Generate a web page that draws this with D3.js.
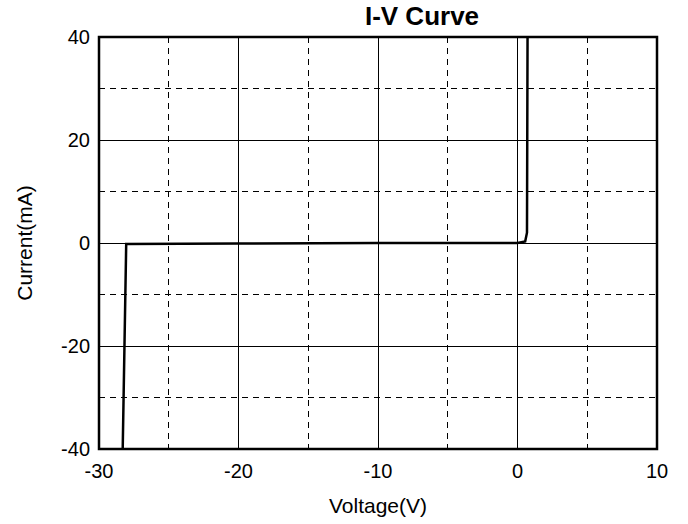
<!DOCTYPE html>
<html>
<head>
<meta charset="utf-8">
<script src="https://cdn.jsdelivr.net/npm/d3@7"></script>
<style>
body { margin: 0; background: #fff; }
text { font-family: "Liberation Sans", Arial, sans-serif; fill: #000; }
</style>
</head>
<body>
<div id="chart"></div>
<script>
// I-V data
var voltage = [-28.3, -28.05, -20, -10, 0, 0.55, 0.68, 0.72]
var current = [-40, -0.2, -0.1, 0, 0, 0.3, 2, 40]
var majorX = [-20, -10, 0]
var minorX = [-25, -15, -5, 5]
var majorY = [20, 0, -20]
var minorY = [30, 10, -10, -30]
var xTicks = [-30, -20, -10, 0, 10]
var yTicks = [-40, -20, 0, 20, 40]

var width = 688, height = 524
var m = {left: 99, top: 37, right: 31, bottom: 75}

var svg = d3.select('#chart').append('svg')
	.attr('width', width)
	.attr('height', height)

var x = d3.scaleLinear().domain([-30, 10]).range([m.left, width - m.right])
var y = d3.scaleLinear().domain([-40, 40]).range([height - m.bottom, m.top])

var g = svg.append('g')
var grid = g.append('g').attr('shape-rendering', 'crispEdges')

// grid
grid.selectAll('.vmaj').data(majorX).enter().append('line')
	.attr('x1', d => x(d)).attr('x2', d => x(d))
	.attr('y1', y(40)).attr('y2', y(-40))
	.attr('stroke', '#000').attr('stroke-width', 1)
grid.selectAll('.vmin').data(minorX).enter().append('line')
	.attr('x1', d => x(d)).attr('x2', d => x(d))
	.attr('y1', y(40)).attr('y2', y(-40))
	.attr('stroke', '#000').attr('stroke-width', 1)
	.attr('stroke-dasharray', '6,5')
grid.selectAll('.hmaj').data(majorY).enter().append('line')
	.attr('x1', x(-30)).attr('x2', x(10))
	.attr('y1', d => y(d)).attr('y2', d => y(d))
	.attr('stroke', '#000').attr('stroke-width', 1)
grid.selectAll('.hmin').data(minorY).enter().append('line')
	.attr('x1', x(-30)).attr('x2', x(10))
	.attr('y1', d => y(d)).attr('y2', d => y(d))
	.attr('stroke', '#000').attr('stroke-width', 1)
	.attr('stroke-dasharray', '6,5')

// curve
var pts = voltage.map((v, i) => [v, current[i]])
g.append('path')
	.datum(pts)
	.attr('d', d3.line().x(d => x(d[0])).y(d => y(d[1])))
	.attr('fill', 'none')
	.attr('stroke', '#000')
	.attr('stroke-width', 2.5)

// frame
g.append('rect')
	.attr('x', x(-30)).attr('y', y(40))
	.attr('width', x(10) - x(-30)).attr('height', y(-40) - y(40))
	.attr('fill', 'none').attr('stroke', '#000').attr('stroke-width', 2.5)

// tick labels
svg.selectAll('.xt').data(xTicks).enter().append('text')
	.attr('x', d => x(d)).attr('y', y(-40) + 29)
	.attr('text-anchor', 'middle')
	.attr('font-size', 20)
	.text(d => d)
svg.selectAll('.yt').data(yTicks).enter().append('text')
	.attr('x', m.left - 9).attr('y', d => y(d) + 7)
	.attr('text-anchor', 'end')
	.attr('font-size', 20)
	.text(d => d)

svg.append('text')
	.attr('x', (x(-30) + x(10)) / 2).attr('y', 513)
	.attr('text-anchor', 'middle').attr('font-size', 21)
	.text('Voltage(V)')
svg.append('text')
	.attr('transform', 'translate(32,' + (y(0)) + ') rotate(-90)')
	.attr('text-anchor', 'middle').attr('font-size', 21)
	.text('Current(mA)')
svg.append('text')
	.attr('x', 422).attr('y', 25)
	.attr('text-anchor', 'middle').attr('font-size', 26)
	.attr('font-weight', 'bold')
	.text('I-V Curve')
</script>
</body>
</html>
